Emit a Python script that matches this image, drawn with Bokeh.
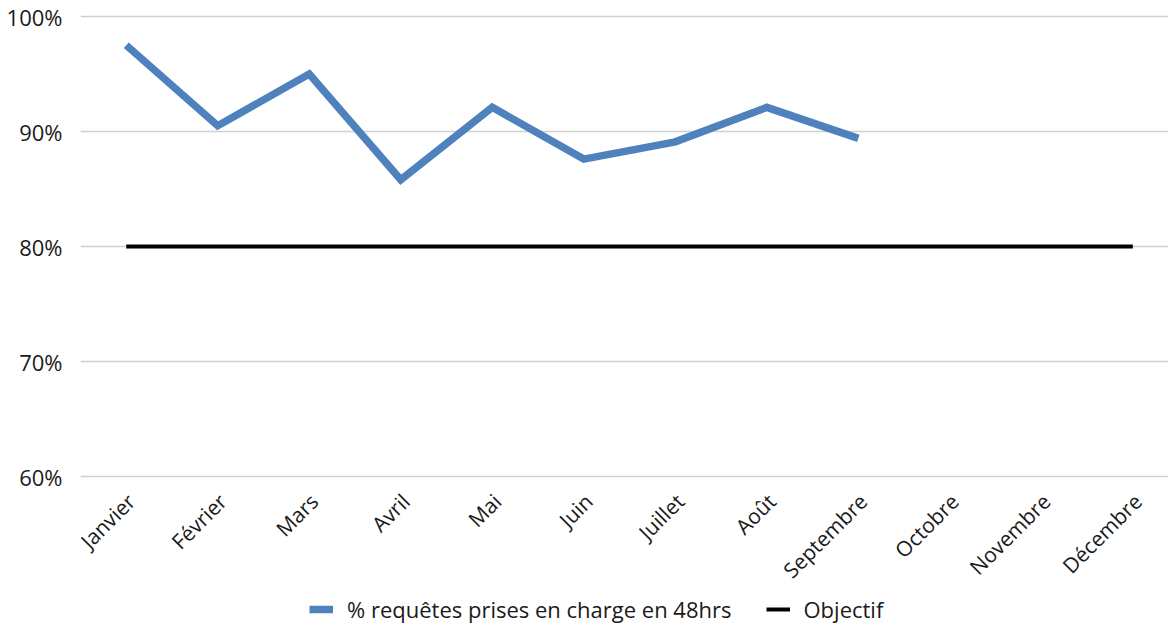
import math
from bokeh.plotting import figure
from bokeh.models import Range1d, FixedTicker, Legend, LegendItem, PrintfTickFormatter, ColumnDataSource
from bokeh.embed import file_html
from bokeh.resources import INLINE

months = ["Janvier", "Février", "Mars", "Avril", "Mai", "Juin", "Juillet",
          "Août", "Septembre", "Octobre", "Novembre", "Décembre"]
pct_48h = [97.5, 90.5, 95.0, 85.8, 92.1, 87.6, 89.1, 92.1, 89.4]
objectif = [80] * 12
y_ticks = [60, 70, 80, 90, 100]

FONT = "Open Sans"

# frame spans the whole lower area so the month labels and legend live inside it
px_per_unit = 460 / (y_ticks[-1] - y_ticks[0])
y_bottom = y_ticks[0] - 150 / px_per_unit
y_top = y_ticks[-1] + 3 / px_per_unit

p = figure(frame_width=1088, frame_height=613, output_backend="svg", toolbar_location=None,
           x_range=Range1d(-0.5, 11.39), y_range=Range1d(y_bottom, y_top),
           min_border_left=80, min_border_right=0, min_border_top=13,
           min_border_bottom=0)
p.outline_line_color = None
p.background_fill_color = "white"
p.border_fill_color = "white"

x_idx = list(range(len(months)))
r1 = p.line(x_idx[:len(pct_48h)], pct_48h, line_color="#4F81BD", line_width=7.5,
            line_join="miter")
r2 = p.line(x_idx, objectif, line_color="black", line_width=4)

# month labels along the 60% baseline
lab_src = ColumnDataSource(dict(x=x_idx, y=[y_ticks[0]] * len(months), t=months))
p.text("x", "y", text="t", source=lab_src, angle=math.pi / 4,
       text_align="right", text_baseline="middle", x_offset=5, y_offset=21,
       text_font={"value": FONT}, text_font_size={"value": "21px"},
       text_color="#1a1a1a")

p.xaxis.visible = False
p.yaxis.ticker = FixedTicker(ticks=y_ticks)
p.yaxis.formatter = PrintfTickFormatter(format="%d%%")
ax = p.yaxis[0]
ax.axis_line_color = None
ax.major_tick_line_color = None
ax.minor_tick_line_color = None
ax.major_label_text_font = FONT
ax.major_label_text_color = "#1a1a1a"
ax.major_label_text_font_size = "22px"
ax.major_label_standoff = 12

p.xgrid.grid_line_color = None
p.ygrid.grid_line_color = "#d0d0d0"
p.ygrid.grid_line_width = 1.5

legend = Legend(items=[LegendItem(label="% requêtes prises en charge en 48hrs", renderers=[r1]),
                       LegendItem(label="Objectif", renderers=[r2])],
                orientation="horizontal", location=(229, 2),
                label_text_font=FONT, label_text_font_size="22px",
                label_text_color="#1a1a1a", border_line_color=None,
                glyph_width=24, glyph_height=20, label_standoff=14, spacing=34,
                margin=0, padding=0, background_fill_alpha=0)
p.add_layout(legend, "center")

open("out.html", "w").write(file_html(p, INLINE))
